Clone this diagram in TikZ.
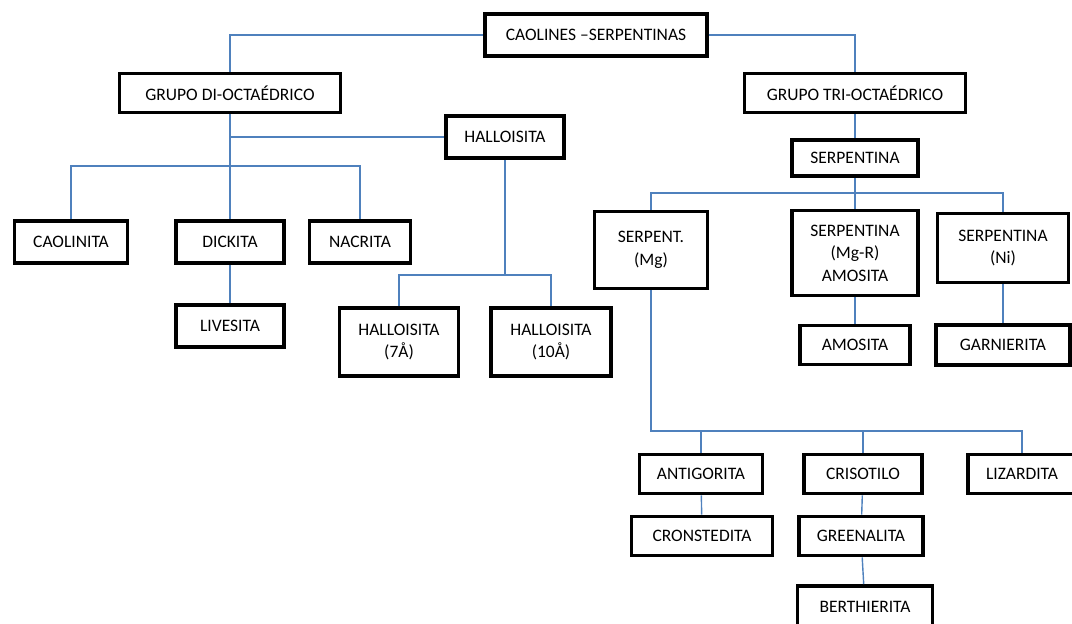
\documentclass[tikz,border=0pt]{standalone}
\usepackage{fontspec}
\setmainfont{Carlito}
\usetikzlibrary{positioning}
\definecolor{azul}{RGB}{79,129,189}
\tikzset{
  caja/.style = {draw = black, line width = 3.6pt, fill = white, align = center, inner sep = 2pt, font = \fontsize{17.5}{22.5}\selectfont},
  rama/.style = {draw = azul, line width = 1.4pt}
}

\begin{document}
\begin{tikzpicture}[x = 1pt, y = -1pt]
\useasboundingbox (0,0) rectangle (1072,624);
\node[caja, minimum width = 222, minimum height = 42] (raiz) at (596,35) {CAOLINES --SERPENTINAS};
\node[caja, minimum width = 221, minimum height = 39] (dioct) at (230,93) {GRUPO DI-OCTAÉDRICO};
\node[caja, minimum width = 221, minimum height = 39] (trioct) at (855,93) {GRUPO TRI-OCTAÉDRICO};
\node[caja, minimum width = 118, minimum height = 42] (hallo) at (505,137) {HALLOISITA};
\node[caja, minimum width = 126, minimum height = 36] (serp) at (855,158) {SERPENTINA};
\node[caja, minimum width = 113, minimum height = 42] (caolinita) at (71,242) {CAOLINITA};
\node[caja, minimum width = 108, minimum height = 42] (dickita) at (230,242) {DICKITA};
\node[caja, minimum width = 101, minimum height = 42] (nacrita) at (360,242) {NACRITA};
\node[caja, minimum width = 108, minimum height = 42] (livesita) at (230,326) {LIVESITA};
\node[caja, minimum width = 119, minimum height = 68] (hal7) at (399,342) {HALLOISITA\\(7Å)};
\node[caja, minimum width = 120, minimum height = 68] (hal10) at (551,342) {HALLOISITA\\(10Å)};
\node[caja, minimum width = 113, minimum height = 77] (serpmg) at (651,250) {SERPENT.\\(Mg)};
\node[caja, minimum width = 126, minimum height = 85] (serpmgr) at (855,253) {SERPENTINA\\(Mg-R)\\AMOSITA};
\node[caja, minimum width = 131, minimum height = 69] (serpni) at (1003,248) {SERPENTINA\\(Ni)};
\node[caja, minimum width = 110, minimum height = 39] (amosita) at (855,345) {AMOSITA};
\node[caja, minimum width = 134, minimum height = 40] (garnierita) at (1003,345) {GARNIERITA};
\node[caja, minimum width = 123, minimum height = 39] (antigorita) at (701,474) {ANTIGORITA};
\node[caja, minimum width = 118, minimum height = 39] (crisotilo) at (863,474) {CRISOTILO};
\node[caja, minimum width = 108, minimum height = 39] (lizardita) at (1022,474) {LIZARDITA};
\node[caja, minimum width = 141, minimum height = 39] (cronstedita) at (702,536) {CRONSTEDITA};
\node[caja, minimum width = 124, minimum height = 39] (greenalita) at (861,536) {GREENALITA};
\node[caja, minimum width = 135, minimum height = 42] (berthierita) at (865,607) {BERTHIERITA};
\coordinate (bdi) at (230,166);
\coordinate (bhal) at (505,275);
\coordinate (bserp) at (855,193);
\coordinate (bmg) at (651,431);
\draw[rama] (raiz.west) -| (dioct.north);
\draw[rama] (raiz.east) -| (trioct.north);
\draw[rama] (dioct.south) -- (bdi);
\draw[rama] (dioct.south |- hallo.west) -- (hallo.west);
\draw[rama] (caolinita.north) |- (bdi) -| (nacrita.north);
\draw[rama] (bdi) -- (dickita.north);
\draw[rama] (dickita) -- (livesita);
\draw[rama] (hallo.south) -- (bhal);
\draw[rama] (hal7.north) |- (bhal) -| (hal10.north);
\draw[rama] (trioct) -- (serp);
\draw[rama] (serp.south) -- (bserp);
\draw[rama] (serpmg.north) |- (bserp) -| (serpni.north);
\draw[rama] (bserp) -- (serpmgr.north);
\draw[rama] (serpmgr) -- (amosita);
\draw[rama] (serpni) -- (garnierita);
\draw[rama] (serpmg.south) |- (bmg) -| (lizardita.north);
\draw[rama] (antigorita.north) -- (antigorita.north |- bmg);
\draw[rama] (crisotilo.north) -- (crisotilo.north |- bmg);
\draw[rama] (antigorita) -- (cronstedita);
\draw[rama] (crisotilo) -- (greenalita);
\draw[rama] (greenalita) -- (berthierita);
\end{tikzpicture}
\end{document}
